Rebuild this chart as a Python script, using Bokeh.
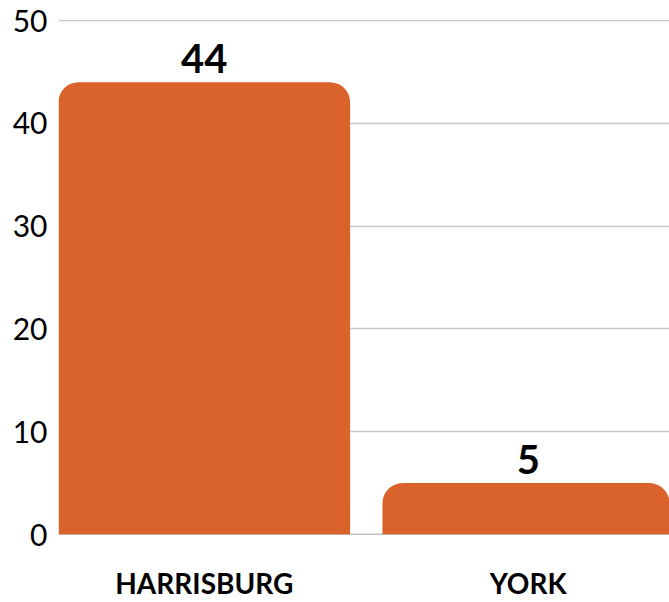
from bokeh.plotting import figure
from bokeh.models import Range1d, FixedTicker, Span, ColumnDataSource
from bokeh.embed import file_html
from bokeh.resources import INLINE
from bokeh.core.properties import value

categories = ["HARRISBURG", "YORK"]
counts = [44, 5]
y_ticks = [0, 10, 20, 30, 40, 50]

xs = list(range(len(categories)))
src = ColumnDataSource(dict(x=xs, top=counts, label=[str(c) for c in counts]))

p = figure(width=669, height=602, output_backend="svg", toolbar_location=None,
           x_range=Range1d(-0.45, len(categories) - 0.564), y_range=Range1d(0, 50.1),
           min_border_left=58, min_border_right=0, min_border_top=19, min_border_bottom=67)
p.outline_line_color = None
p.background_fill_color = "white"
p.border_fill_color = "white"

p.xgrid.grid_line_color = None
p.ygrid.grid_line_color = "#c8c8c8"
p.ygrid.grid_line_width = 1.3
p.ygrid.ticker = FixedTicker(ticks=y_ticks)

p.add_layout(Span(location=0, dimension="width", line_color="#888888", line_width=1.5, level="underlay"))

p.vbar(x="x", top="top", bottom=0, width=0.9, source=src, fill_color="#D9632B",
       line_color=None, border_radius=(20, 20, 0, 0))

p.text(x="x", y="top", text="label", source=src, text_align="center", text_baseline="bottom",
       y_offset=-9, text_font=value("Lato"), text_font_style="bold", text_font_size="40px",
       text_color="black")

p.yaxis.ticker = FixedTicker(ticks=y_ticks)
p.yaxis.axis_line_color = None
p.yaxis.major_tick_line_color = None
p.yaxis.minor_tick_line_color = None
p.yaxis.major_tick_out = 0
p.yaxis.major_tick_in = 0
p.yaxis.major_label_text_font = "Lato"
p.yaxis.major_label_text_font_size = "30px"
p.yaxis.major_label_text_color = "black"
p.yaxis.major_label_standoff = 11

p.xaxis.ticker = FixedTicker(ticks=xs)
p.xaxis.major_label_overrides = {i: c for i, c in zip(xs, categories)}
p.xaxis.axis_line_color = None
p.xaxis.major_tick_line_color = None
p.xaxis.minor_tick_line_color = None
p.xaxis.major_tick_out = 0
p.xaxis.major_tick_in = 0
p.xaxis.major_label_text_font = "Lato"
p.xaxis.major_label_text_font_style = "bold"
p.xaxis.major_label_text_font_size = "28px"
p.xaxis.major_label_text_color = "black"
p.xaxis.major_label_standoff = 31

open("out.html", "w").write(file_html(p, INLINE))
